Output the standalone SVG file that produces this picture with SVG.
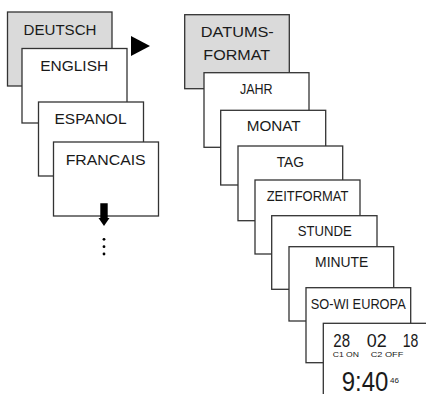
<svg xmlns="http://www.w3.org/2000/svg" width="426" height="394" viewBox="0 0 426 394">
<style>
.box{fill:#fff;stroke:#333;stroke-width:1.3}
.gray{fill:#dadada}
text{font-family:"Liberation Sans",Arial,sans-serif;fill:#1a1a1a}
.lbl{font-size:14.5px;text-anchor:middle}
.big{font-size:17.5px}
.sm{font-size:7.2px}
.time{font-size:28px}
.sec{font-size:8px}
</style>
<rect width="426" height="394" fill="#fff"/>
<g id="deutsch"><rect class="box gray" x="7.5" y="12" width="104.5" height="74"/><text class="lbl" x="60" y="35" textLength="73" lengthAdjust="spacingAndGlyphs">DEUTSCH</text></g>
<g id="english"><rect class="box" x="22" y="48.5" width="105" height="74.5"/><text class="lbl" x="74.2" y="71" textLength="68" lengthAdjust="spacingAndGlyphs">ENGLISH</text></g>
<g id="espanol"><rect class="box" x="38.5" y="102" width="105" height="74"/><text class="lbl" x="90.5" y="124.3" textLength="72" lengthAdjust="spacingAndGlyphs">ESPANOL</text></g>
<g id="francais"><rect class="box" x="53.5" y="142" width="105" height="74"/><text class="lbl" x="105.7" y="165" textLength="80" lengthAdjust="spacingAndGlyphs">FRANCAIS</text></g>
<g id="datumsformat"><rect class="box gray" x="184.7" y="14.7" width="104.6" height="74"/><text class="lbl" x="237.3" y="36.7" textLength="73" lengthAdjust="spacingAndGlyphs">DATUMS-</text><text class="lbl" x="236.7" y="60" textLength="66.7" lengthAdjust="spacingAndGlyphs">FORMAT</text></g>
<g id="jahr"><rect class="box" x="204" y="72.7" width="105" height="74.6"/><text class="lbl" x="256.3" y="94" textLength="32.7" lengthAdjust="spacingAndGlyphs">JAHR</text></g>
<g id="monat"><rect class="box" x="220.7" y="110.3" width="105" height="74.7"/><text class="lbl" x="273.7" y="130.7" textLength="54" lengthAdjust="spacingAndGlyphs">MONAT</text></g>
<g id="tag"><rect class="box" x="238" y="146" width="104.7" height="74.7"/><text class="lbl" x="290.3" y="166.7" textLength="27.3" lengthAdjust="spacingAndGlyphs">TAG</text></g>
<g id="zeitformat"><rect class="box" x="255" y="180" width="105" height="74"/><text class="lbl" x="307.5" y="200.7" textLength="81.7" lengthAdjust="spacingAndGlyphs">ZEITFORMAT</text></g>
<g id="stunde"><rect class="box" x="271.7" y="215.7" width="105.3" height="73.6"/><text class="lbl" x="324.7" y="236" textLength="54" lengthAdjust="spacingAndGlyphs">STUNDE</text></g>
<g id="minute"><rect class="box" x="289" y="246.7" width="104.7" height="74.3"/><text class="lbl" x="341.7" y="267.3" textLength="53.3" lengthAdjust="spacingAndGlyphs">MINUTE</text></g>
<g id="sowi"><rect class="box" x="306" y="287.7" width="104.7" height="75"/><text class="lbl" x="358.2" y="309" textLength="95" lengthAdjust="spacingAndGlyphs">SO-WI EUROPA</text></g>
<g id="clock"><rect class="box" x="323.3" y="323.3" width="106" height="76"/>
<text class="big" x="333.3" y="346.5" textLength="16.7" lengthAdjust="spacingAndGlyphs">28</text>
<text class="big" x="366.7" y="346.5" textLength="20" lengthAdjust="spacingAndGlyphs">02</text>
<text class="big" x="402.7" y="346.5" textLength="15.6" lengthAdjust="spacingAndGlyphs">18</text>
<text class="sm" x="332.7" y="356.5" textLength="26.3" lengthAdjust="spacingAndGlyphs">C1 ON</text>
<text class="sm" x="370.7" y="356.5" textLength="32.6" lengthAdjust="spacingAndGlyphs">C2 OFF</text>
<text class="time" x="341.7" y="390.5"><tspan textLength="46.6" lengthAdjust="spacingAndGlyphs">9:40</tspan><tspan class="sec" x="390" y="383.3">46</tspan></text>
</g>
<g id="connectors" fill="#000">
<polygon points="131,36 150,46 131,56"/>
<polygon points="100.3,203.3 107.7,203.3 107.7,218 109.5,218 104,226 98.5,218 100.3,218"/>
<circle cx="104" cy="239.3" r="1.4"/>
<circle cx="104" cy="246.7" r="1.4"/>
<circle cx="104" cy="254" r="1.4"/>
</g>
</svg>
